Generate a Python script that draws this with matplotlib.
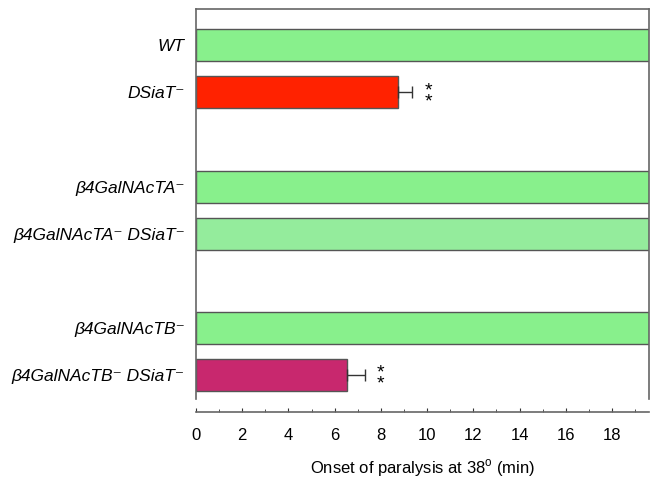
import matplotlib.pyplot as plt
from matplotlib.ticker import MultipleLocator

plt.rcParams['font.family'] = ['Liberation Sans', 'DejaVu Sans']

genotypes = ["WT", "DSiaT⁻", "β4GalNAcTA⁻", "β4GalNAcTA⁻ DSiaT⁻",
             "β4GalNAcTB⁻", "β4GalNAcTB⁻ DSiaT⁻"]
positions = [0, 1, 3, 4, 6, 7]
onset = [20, 8.75, 20, 20, 20, 6.55]
errors = [0, 0.6, 0, 0, 0, 0.75]
colors = ["#88f08c", "#ff2200", "#88f08c", "#94ec9c", "#88f08c", "#c8286e"]
significant = [False, True, False, False, False, True]


def plot_onset():
    fig = plt.figure(figsize=(6.5, 4.79), dpi=100)
    ax = fig.add_axes([0.3015, 0.167, 0.697, 0.814])

    ax.barh(positions, onset, height=0.68, color=colors,
            edgecolor="#555555", linewidth=1.0, zorder=2)
    for y, v, e, sig in zip(positions, onset, errors, significant):
        if e > 0:
            ax.errorbar(v, y, xerr=[[0], [e]], fmt="none", ecolor="#333333",
                        elinewidth=1.0, capsize=4, capthick=1.0, zorder=3)
        if sig:
            ax.text(v + e + 0.7, y + 0.08, "*\n*", ha="center", va="center",
                    fontsize=14, linespacing=0.55)

    ax.set_xlim(0, 19.6)
    ax.set_ylim(7.51, -0.766)
    ax.set_yticks(positions)
    ax.set_yticklabels(genotypes, style="italic", fontsize=12.5)
    ax.tick_params(axis="y", length=0, pad=8)

    ax.xaxis.set_major_locator(MultipleLocator(2))
    ax.xaxis.set_minor_locator(MultipleLocator(1))
    ax.set_xticks(range(0, 19, 2))
    ax.tick_params(axis="x", which="major", direction="in", length=3,
                   pad=12, labelsize=12, color="#333333")
    ax.tick_params(axis="x", which="minor", direction="in", length=2,
                   color="#333333")
    ax.spines["bottom"].set_position(("outward", 9))
    for side in ["left", "top", "right", "bottom"]:
        ax.spines[side].set_color("#666666")
        ax.spines[side].set_linewidth(1.2)
    ax.set_xlabel("Onset of paralysis at 38$^\\mathregular{o}$ (min)",
                  fontsize=12, labelpad=10)

    fig.savefig("out.png", dpi=100)


if __name__ == "__main__":
    plot_onset()
